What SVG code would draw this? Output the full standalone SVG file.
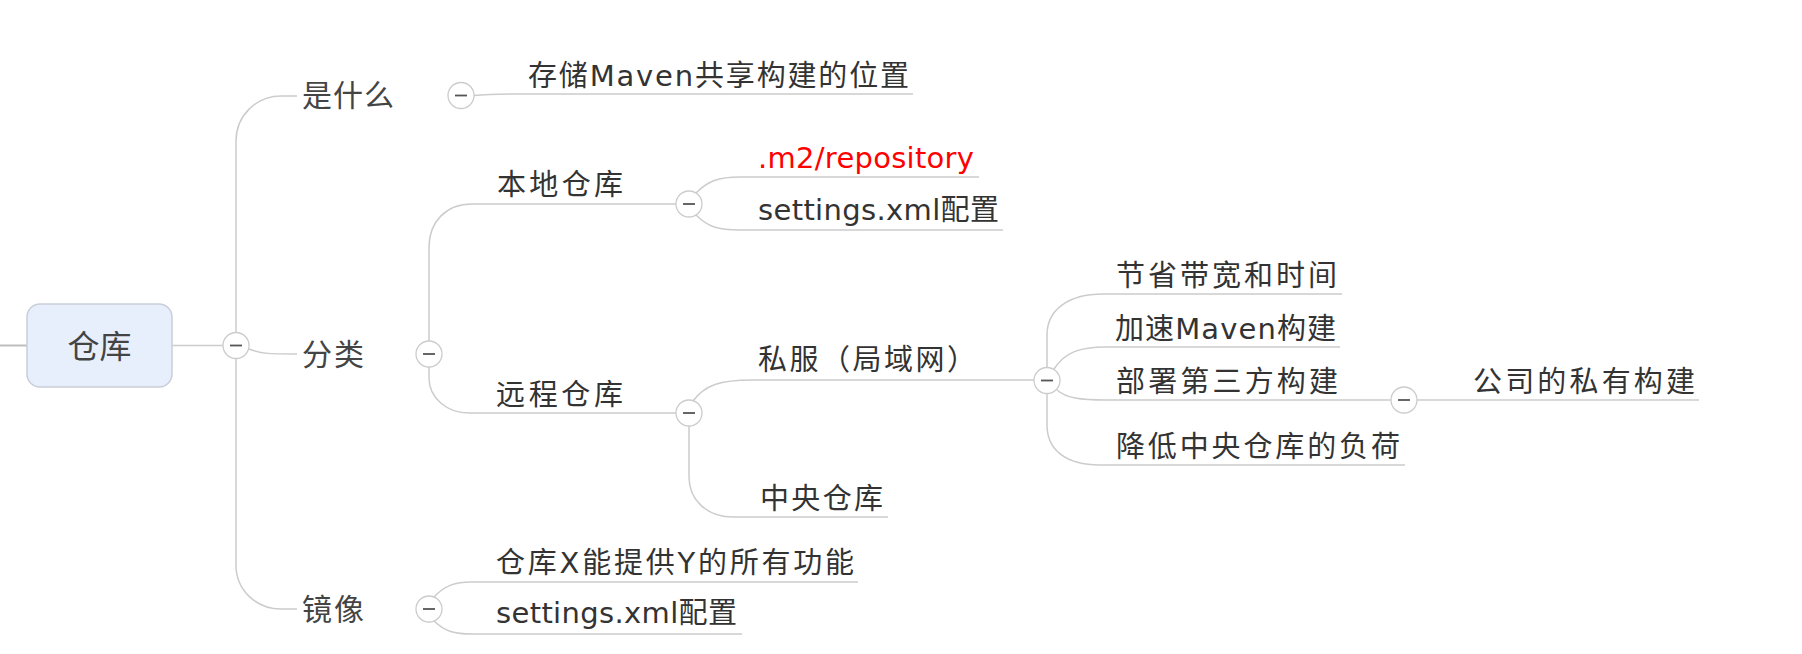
<svg xmlns="http://www.w3.org/2000/svg" width="1802" height="654" viewBox="0 0 1802 654">
<style>
.c{fill:none;stroke:#cccccc;stroke-width:1.5}
.t{font-family:"DejaVu Sans","Noto Sans CJK SC",sans-serif;font-size:29px;fill:#333333}
.t1{font-family:"Noto Sans CJK SC",sans-serif;font-size:30px;fill:#444444}
.tog circle{fill:#ffffff;stroke:#cccccc;stroke-width:1.3}
.tog line{stroke:#555555;stroke-width:1.8}
</style>
<rect width="1802" height="654" fill="#ffffff"/>
<g id="connectors">
<path class="c" d="M0,345.5 H27" style="stroke:#bdbdbd;stroke-width:2"/>
<path class="c" d="M172,345.5 H223"/>
<path class="c" d="M236,332.5 V141 C236,116 256,96 281,96 H297"/>
<path class="c" d="M249,349 C262,354 270,354 297,354"/>
<path class="c" d="M236,358.5 V565 C236,590 256,609 281,609 H297"/>
<path class="c" d="M474,95.5 C490,94 500,94 520,94 H913"/>
<path class="c" d="M429,341 V247 C429,222 446,204 472,204 H676"/>
<path class="c" d="M429,367 V378 C429,398 447,413 469,413 H676"/>
<path class="c" d="M696,193 C708,181 718,177 740,177 H979"/>
<path class="c" d="M696,215 C708,227 718,230 740,230 H1003"/>
<path class="c" d="M693,401 C705,385 720,380 752,380 H1034"/>
<path class="c" d="M689,426 V477 C689,500 707,517 733,517 H888"/>
<path class="c" d="M433,598 C445,585 455,582 472,582 H858"/>
<path class="c" d="M433,620 C445,632 455,634 472,634 H742"/>
<path class="c" d="M1047,367 V335 C1047,310 1068,294 1103,294 H1342"/>
<path class="c" d="M1054,369 C1065,352 1080,347 1106,347 H1340"/>
<path class="c" d="M1057,390 C1066,398 1080,400 1106,400 H1391"/>
<path class="c" d="M1047,393.5 V425 C1047,450 1066,465 1100,465 H1405"/>
<path class="c" d="M1417,400 H1699"/>
</g>
<g id="root">
<rect x="27" y="304" width="145" height="83" rx="13" fill="#e8effc" stroke="#c9ced8" stroke-width="1.5"/>
<text x="99.5" y="358" text-anchor="middle" style="font-family:'Noto Sans CJK SC',sans-serif;font-size:32px;fill:#444444">仓库</text>
<g class="tog"><circle cx="236" cy="345.5" r="13"/><line x1="230" y1="345.5" x2="242" y2="345.5"/></g>
</g>
<g id="n-shishenme">
<text class="t1" x="302" y="106" textLength="92" lengthAdjust="spacing">是什么</text>
<g class="tog"><circle cx="461" cy="95.5" r="13"/><line x1="455" y1="95.5" x2="467" y2="95.5"/></g>
</g>
<g id="n-fenlei">
<text class="t1" x="302" y="364.5" textLength="62" lengthAdjust="spacing">分类</text>
<g class="tog"><circle cx="429" cy="354" r="13"/><line x1="423" y1="354" x2="435" y2="354"/></g>
</g>
<g id="n-jingxiang">
<text class="t1" x="302" y="619.5" textLength="62" lengthAdjust="spacing">镜像</text>
<g class="tog"><circle cx="429" cy="609" r="13"/><line x1="423" y1="609" x2="435" y2="609"/></g>
</g>
<g id="n-cunchu">
<text class="t" x="528" y="86" textLength="381" lengthAdjust="spacing">存储Maven共享构建的位置</text>
</g>
<g id="n-bendi">
<text class="t" x="497" y="195" textLength="126" lengthAdjust="spacing">本地仓库</text>
<g class="tog"><circle cx="689" cy="204" r="13"/><line x1="683" y1="204" x2="695" y2="204"/></g>
</g>
<g id="n-m2">
<text class="t" x="758" y="168" textLength="216" lengthAdjust="spacing" style="fill:#ff0000">.m2/repository</text>
</g>
<g id="n-settings1">
<text class="t" x="758" y="220" textLength="241" lengthAdjust="spacing">settings.xml配置</text>
</g>
<g id="n-yuancheng">
<text class="t" x="496" y="405" textLength="127" lengthAdjust="spacing">远程仓库</text>
<g class="tog"><circle cx="689" cy="413" r="13"/><line x1="683" y1="413" x2="695" y2="413"/></g>
</g>
<g id="n-sifu">
<text class="t" x="758" y="370" textLength="218" lengthAdjust="spacing">私服（局域网）</text>
<g class="tog"><circle cx="1047" cy="380.5" r="13"/><line x1="1041" y1="380.5" x2="1053" y2="380.5"/></g>
</g>
<g id="n-zhongyang">
<text class="t" x="760" y="509" textLength="123" lengthAdjust="spacing">中央仓库</text>
</g>
<g id="n-jiesheng">
<text class="t" x="1116" y="285.5" textLength="221" lengthAdjust="spacing">节省带宽和时间</text>
</g>
<g id="n-jiasu">
<text class="t" x="1115" y="338.5" textLength="221" lengthAdjust="spacing">加速Maven构建</text>
</g>
<g id="n-bushu">
<text class="t" x="1116" y="391.5" textLength="222" lengthAdjust="spacing">部署第三方构建</text>
<g class="tog"><circle cx="1404" cy="400" r="13"/><line x1="1398" y1="400" x2="1410" y2="400"/></g>
</g>
<g id="n-gongsi">
<text class="t" x="1473" y="391.5" textLength="222" lengthAdjust="spacing">公司的私有构建</text>
</g>
<g id="n-jiangdi">
<text class="t" x="1116" y="456.5" textLength="284" lengthAdjust="spacing">降低中央仓库的负荷</text>
</g>
<g id="n-cangkux">
<text class="t" x="496" y="573" textLength="358" lengthAdjust="spacing">仓库X能提供Y的所有功能</text>
</g>
<g id="n-settings2">
<text class="t" x="496" y="623" textLength="241" lengthAdjust="spacing">settings.xml配置</text>
</g>
</svg>
